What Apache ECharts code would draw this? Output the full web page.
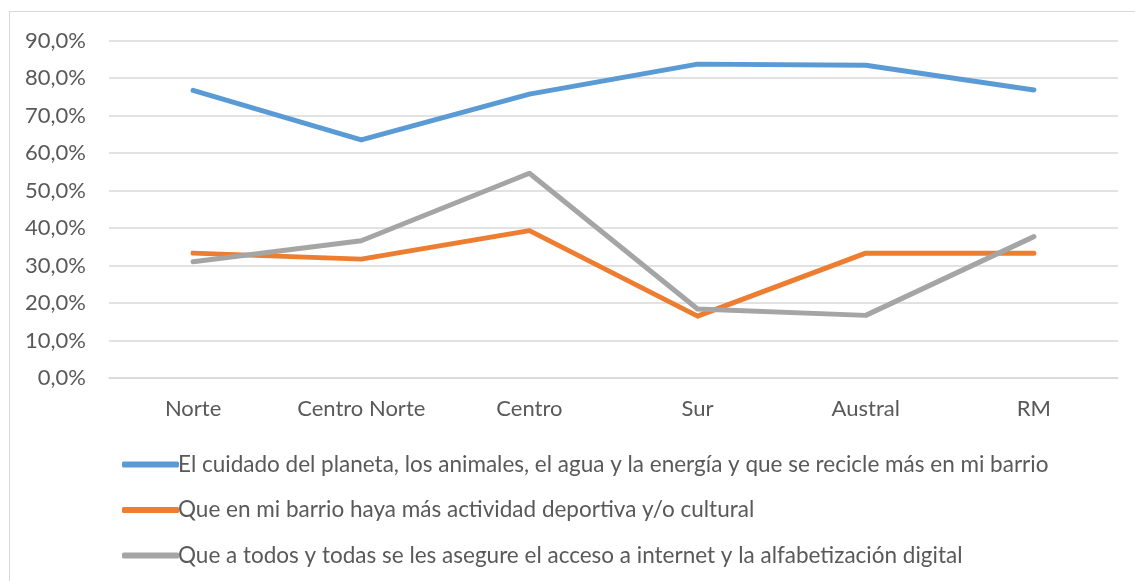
<!DOCTYPE html>
<html>
<head>
<meta charset="utf-8">
<script src="https://cdn.jsdelivr.net/npm/echarts@6/dist/echarts.min.js"></script>
<style>
  html, body { margin: 0; padding: 0; background: #fff; }
  .frame { position: absolute; left: 9px; top: 11px; width: 1140px; height: 600px; border: 1px solid #d9d9d9; box-sizing: border-box; }
  #chart { position: absolute; left: 0; top: 0; width: 1135px; height: 581px; }
</style>
</head>
<body>
<div class="frame"></div>
<div id="chart"></div>
<script>
var categories = ['Norte', 'Centro Norte', 'Centro', 'Sur', 'Austral', 'RM'];
var names = [
  'El cuidado del planeta, los animales, el agua y la energía y que se recicle más en mi barrio',
  'Que en mi barrio haya más actividad deportiva y/o cultural',
  'Que a todos y todas se les asegure el acceso a internet y la alfabetización digital'
];
var cuidado = [76.7, 63.5, 75.7, 83.7, 83.4, 76.8];
var deporte = [33.3, 31.7, 39.3, 16.5, 33.3, 33.3];
var internet = [31.0, 36.6, 54.6, 18.4, 16.7, 37.7];
var colors = ['#5B9BD5', '#ED7D31', '#A5A5A5'];

var myChart = echarts.init(document.getElementById('chart'));

var font = 'Lato, sans-serif';

function line(name, data, color) {
  return {
    name: name,
    type: 'line',
    data: data,
    symbol: 'none',
    lineStyle: { width: 5, color: color, cap: 'round', join: 'round' },
    itemStyle: { color: color }
  };
}

var option = {
  animation: false,
  grid: { left: 109, right: 17, top: 40.5, bottom: 203 },
  xAxis: {
    type: 'category',
    data: categories,
    axisLine: { lineStyle: { color: '#d9d9d9', width: 1.5 } },
    axisTick: { show: false },
    axisLabel: { color: '#595959', fontSize: 22, fontFamily: font, margin: 20 }
  },
  yAxis: {
    type: 'value',
    min: 0,
    max: 90,
    interval: 10,
    axisLine: { show: false },
    axisTick: { show: false },
    splitLine: { lineStyle: { color: '#d9d9d9', width: 1.5 } },
    axisLabel: {
      color: '#595959', fontSize: 22, fontFamily: font, margin: 23,
      formatter: function (v) { return v.toFixed(1).replace('.', ',') + '%'; }
    }
  },
  legend: {
    orient: 'vertical',
    left: 117,
    top: 448,
    itemWidth: 57,
    itemHeight: 6,
    itemGap: 22.5,
    icon: 'roundRect',
    textStyle: { color: '#595959', fontSize: 22.5, fontFamily: font, padding: [0, 0, 0, -6] },
    data: names
  },
  series: [
    line(names[0], cuidado, colors[0]),
    line(names[1], deporte, colors[1]),
    line(names[2], internet, colors[2])
  ]
};

myChart.setOption(option);
</script>
</body>
</html>
